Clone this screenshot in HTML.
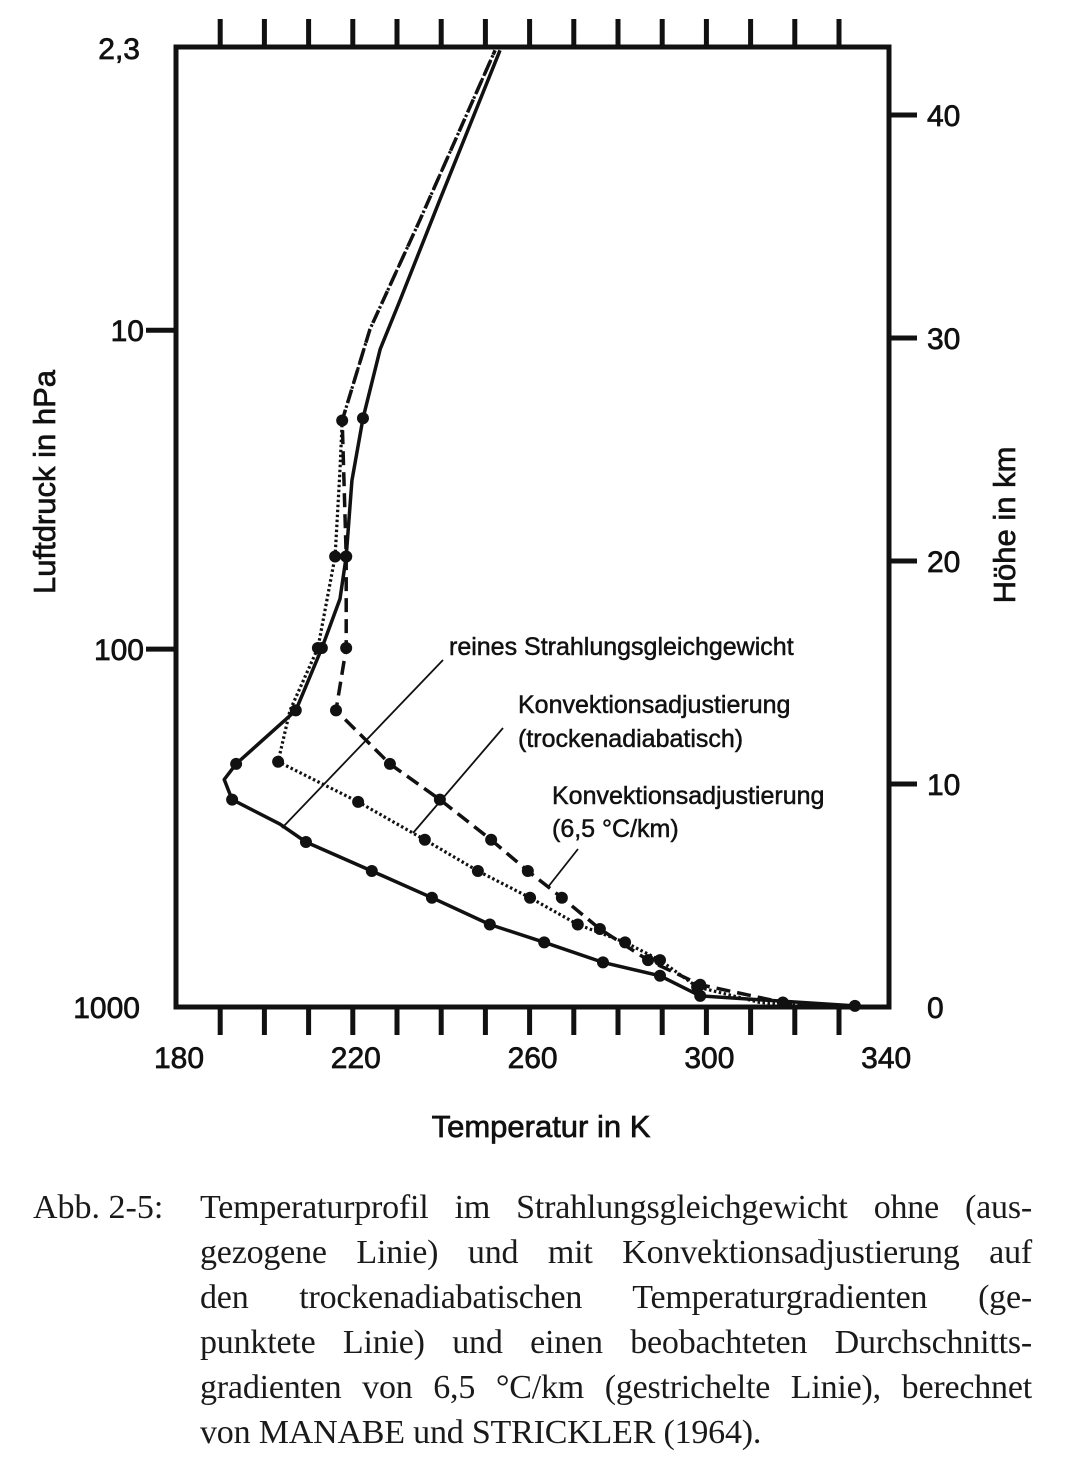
<!DOCTYPE html>
<html><head><meta charset="utf-8">
<style>
html,body{margin:0;padding:0;background:#fff;}
body{width:1080px;height:1474px;position:relative;overflow:hidden;}
svg{position:absolute;left:0;top:0;}
.cap{position:absolute;font-family:"Liberation Serif",serif;font-size:34px;color:#1a1a1a;line-height:45px;}
.cl{text-align:justify;text-align-last:justify;width:832px;white-space:nowrap;letter-spacing:-0.2px;}
.cl.last{text-align-last:left;}
</style></head>
<body>
<svg id="chart" width="1080" height="1160"></svg>
<div class="cap" style="left:33px;top:1185px;">Abb. 2-5:</div>
<div class="cap" style="left:200px;top:1185px;">
<div class="cl">Temperaturprofil im Strahlungsgleichgewicht ohne (aus-</div>
<div class="cl">gezogene Linie) und mit Konvektionsadjustierung auf</div>
<div class="cl">den trockenadiabatischen Temperaturgradienten (ge-</div>
<div class="cl">punktete Linie) und einen beobachteten Durchschnitts-</div>
<div class="cl">gradienten von 6,5 °C/km (gestrichelte Linie), berechnet</div>
<div class="cl last">von MANABE und STRICKLER (1964).</div>
</div>
<script>
const tempTicks=[180,220,260,300,340];
const minorTicks=[190,200,210,220,230,240,250,260,270,280,290,300,310,320,330];
const heightTicks=[0,10,20,30,40];
const pressureLabels=["2,3","10","100","1000"];
const pressureHeights=[43,30.35,16.05,0];
const solidT=[333.6,298.6,289.5,276.6,263.3,251.0,237.9,224.3,209.4,203.5,192.7,190.9,193.6,207.1,213.0,217.1,218.5,219.8,222.3,226.2,230.7,239.7,253.3];
const solidZ=[0.05,0.5,1.4,2.0,2.9,3.7,4.9,6.1,7.4,8.2,9.3,10.2,10.9,13.3,16.1,18.3,20.2,23.6,26.4,29.5,31.7,36.2,42.9];
const solidDots=[0,1,2,3,4,5,6,7,8,10,12,13,14,16,18];
const dotT=[333.6,312.1,297.9,289.5,281.6,270.9,260.1,248.3,236.3,221.2,203.1,205.8,212.1,216.0,217.1,217.6,223.9,235.2,252.2];
const dotZ=[0,0.2,0.9,2.1,2.9,3.7,4.9,6.1,7.5,9.2,11.0,13.3,16.1,20.2,24.1,26.3,30.4,35.3,42.9];
const dotDots=[2,3,4,5,6,7,8,9,10,12,13,15];
const dashT=[333.6,317.3,298.6,286.8,275.9,267.3,259.6,251.3,239.7,228.4,216.2,218.5,218.5,217.6,223.9,235.2,252.2];
const dashZ=[0,0.2,1.0,2.1,3.5,4.9,6.1,7.5,9.3,10.9,13.3,16.1,20.2,26.3,30.4,35.3,42.9];
const dashDots=[1,2,3,4,5,6,7,8,9,10,11,12];

const X0=176,X1=889,Y0=1007,Y1=47;
const xS=t=>X0+(t-180)*4.42;
const yS=z=>Y0-z*22.3;
const NS="http://www.w3.org/2000/svg";
const svg=document.getElementById('chart');
function mk(tag,attrs,parent){const e=document.createElementNS(NS,tag);for(const k in attrs)e.setAttribute(k,attrs[k]);(parent||svg).appendChild(e);return e;}
const F='"Liberation Sans",sans-serif';
const TS={'font-family':F,fill:'#111',stroke:'#111','stroke-width':0.7};
function txt(a){return Object.assign({},TS,a);}

let box=mk('rect',{x:X0,y:Y1,width:X1-X0,height:Y0-Y1,fill:'none',stroke:'#111','stroke-width':5});



minorTicks.forEach(t=>{
 let a=mk('line',{x1:xS(t),x2:xS(t),y1:Y1,y2:Y1-28,stroke:'#111','stroke-width':5});
 
 
 let b=mk('line',{x1:xS(t),x2:xS(t),y1:Y0,y2:Y0+28,stroke:'#111','stroke-width':5});
 
 
});
tempTicks.forEach(t=>{
 let l=mk('text',txt({x:xS(t)+3,y:1068,'font-size':30,'text-anchor':'middle'}));
 l.textContent=t;
 
 
});
heightTicks.forEach(h=>{
 if(h>0){let tk=mk('line',{x1:X1,x2:X1+28,y1:yS(h),y2:yS(h),stroke:'#111','stroke-width':5});
 
 }
 let l=mk('text',txt({x:927,y:yS(h)+11,'font-size':30}));
 l.textContent=h;
 
 
});
pressureLabels.forEach((p,i)=>{
 const y=yS(pressureHeights[i]);
 if(i===1||i===2){let tk=mk('line',{x1:X0-30,x2:X0,y1:y,y2:y,stroke:'#111','stroke-width':5});
 
 }
 let l=mk('text',txt({x:i===0?140:(i===3?140:144),y:y+11,'font-size':30,'text-anchor':'end'}));
 l.textContent=p;
 
 
});
let yt=mk('text',txt({x:0,y:0,'font-size':31,'text-anchor':'middle',transform:'translate(55,482) rotate(-90)'}));
yt.textContent='Luftdruck in hPa';


let rt=mk('text',txt({x:0,y:0,'font-size':31,'text-anchor':'middle',transform:'translate(1015,525) rotate(-90)'}));
rt.textContent='Höhe in km';


let xt=mk('text',txt({x:541,y:1137,'font-size':31,'text-anchor':'middle'}));
xt.textContent='Temperatur in K';



function series(T,Z,D,name,dash,w){
 const pts=T.map((t,i)=>xS(t).toFixed(1)+','+yS(Z[i]).toFixed(1)).join(' ');
 let p=mk('polyline',{points:pts,fill:'none',stroke:'#111','stroke-width':w,'stroke-dasharray':dash,'stroke-linejoin':'round'});
 
 
 D.forEach(i=>{
  let c=mk('circle',{cx:xS(T[i]),cy:yS(Z[i]),r:6,fill:'#111'});
  
  
 });
}
series(solidT,solidZ,solidDots,'radiative-equilibrium','none',3.5);
series(dotT,dotZ,dotDots,'dry-adiabatic-adjustment','2.5 2.5',3.2);
series(dashT,dashZ,dashDots,'lapse-6-5-adjustment','14 7',3.5);

const ann=[
 {t:'reines Strahlungsgleichgewicht',x:449,y:655,l:[443,660,282,828]},
 {t:'Konvektionsadjustierung',x:518,y:713,l:[503,728,413,833]},
 {t:'(trockenadiabatisch)',x:518,y:747,l:null},
 {t:'Konvektionsadjustierung',x:552,y:804,l:[578,849,548,887]},
 {t:'(6,5 °C/km)',x:552,y:837,l:null}
];
ann.forEach(a=>{
 let tx=mk('text',txt({x:a.x,y:a.y,'font-size':25,'stroke-width':0.5}));
 tx.textContent=a.t;
 
 
 if(a.l){let ln=mk('line',{x1:a.l[0],y1:a.l[1],x2:a.l[2],y2:a.l[3],stroke:'#111','stroke-width':1.8});
 
 }
});
</script>
</body></html>
